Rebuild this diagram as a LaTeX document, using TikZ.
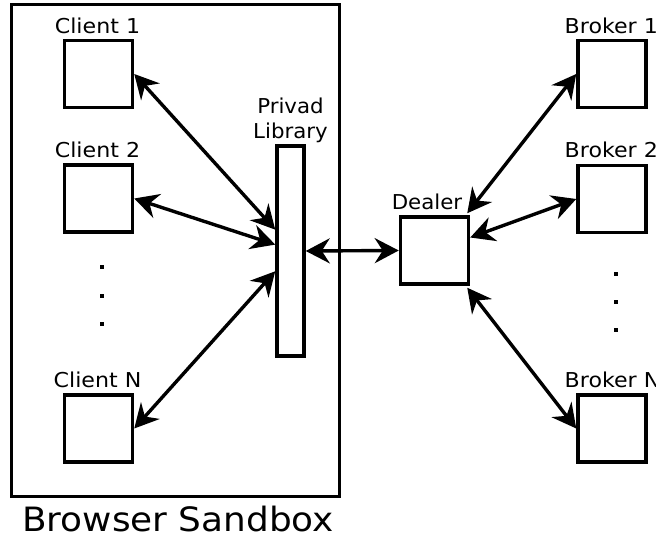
\documentclass[tikz,border=0pt]{standalone}
\usepackage{graphicx}
\usepackage{fontspec}
\setmainfont{DejaVu Sans}
\usetikzlibrary{arrows.meta,calc}

% labels are set slightly wide
\newcommand\widetext[2][1.08]{\scalebox{#1}[1]{#2}}

\tikzset{
  box/.style={draw, line width=3.5pt, minimum width=68pt, minimum height=67pt, inner sep=0pt},
  lbl/.style={anchor=base, inner sep=0pt, font=\fontsize{20.5}{24}\selectfont},
  tip/.tip={Stealth[length=24pt,width=25pt,inset=8pt]},
  link/.style={line width=3.4pt, tip-tip},
  dot/.style={fill=black, minimum size=3.5pt, inner sep=0pt},
}

\begin{document}
\begin{tikzpicture}[x=1pt, y=-1pt]
  \useasboundingbox (0,0) rectangle (656,537);

  % browser sandbox frame
  \node[draw, line width=3.5pt, minimum width=328pt, minimum height=492pt, inner sep=0pt] (sandbox) at (175.5,250.5) {};
  \node[anchor=base, inner sep=0pt, font=\fontsize{33.5}{40}\selectfont] (sandboxlbl) at (178,531) {\widetext[1.07]{Browser Sandbox}};

  % clients
  \node[box] (c1) at (98.5,74) {};
  \node[box] (c2) at (98.5,198.5) {};
  \node[box] (cn) at (98.5,428.5) {};
  \node[lbl] (c1l) at (97.5,34) {\widetext{Client 1}};
  \node[lbl] (c2l) at (97.5,158) {\widetext{Client 2}};
  \node[lbl] (cnl) at (97.5,387) {\widetext{Client N}};
  \node[dot] (ld1) at (102,267) {};
  \node[dot] (ld2) at (102,296) {};
  \node[dot] (ld3) at (102,324) {};

  % privad library
  \node[draw, line width=3.5pt, minimum width=27pt, minimum height=210pt, inner sep=0pt] (lib) at (290.5,251) {};
  \node[lbl] (libl1) at (290.5,114) {\widetext[1.04]{Privad}};
  \node[lbl] (libl2) at (290.5,139) {\widetext[1.04]{Library}};

  % dealer
  \node[box] (dealer) at (434.5,250.5) {};
  \node[lbl] (dealerl) at (427,210) {\widetext[1.04]{Dealer}};

  % brokers
  \node[box] (b1) at (612,74) {};
  \node[box] (b2) at (612,199) {};
  \node[box] (bn) at (612,428.5) {};
  \node[lbl, anchor=base west] (b1l) at (564.5,34) {\widetext{Broker 1}};
  \node[lbl, anchor=base west] (b2l) at (564.5,158) {\widetext{Broker 2}};
  \node[lbl, anchor=base west] (bnl) at (564.5,387) {\widetext{Broker N}};
  \node[dot] (rd1) at (616,274) {};
  \node[dot] (rd2) at (616,302) {};
  \node[dot] (rd3) at (616,330) {};

  % attachment points on the library bar
  \coordinate (lw1) at ($(lib.north west)!0.40!(lib.south west)$);
  \coordinate (lw2) at ($(lib.north west)!0.47!(lib.south west)$);
  \coordinate (lw3) at ($(lib.north west)!0.595!(lib.south west)$);

  % client links
  \draw[link] (c1.east) -- (lw1);
  \draw[link] (c2.east) -- (lw2);
  \draw[link] (cn.east) -- (lw3);

  % library to dealer
  \draw[link] (lib.east) -- (dealer.west);

  % dealer to brokers
  \draw[link] ([xshift=-3pt,yshift=2pt]dealer.north east) -- (b1.west);
  \draw[link] ([yshift=13pt]dealer.east) -- (b2.west);
  \draw[link] ([xshift=-3pt,yshift=-2pt]dealer.south east) -- (bn.west);
\end{tikzpicture}
\end{document}
